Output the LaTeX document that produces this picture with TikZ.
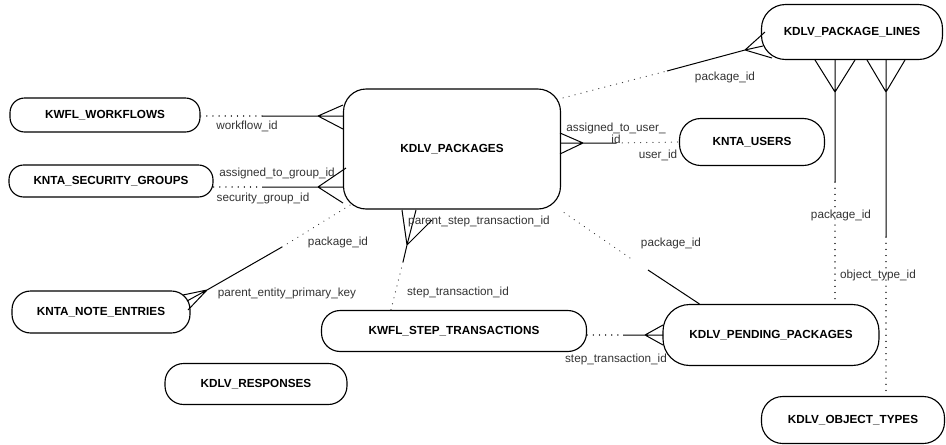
\documentclass[tikz,border=0pt]{standalone}
\usepackage{fontspec}
\setmainfont{Liberation Sans}
\usetikzlibrary{calc}

\begin{document}
\begin{tikzpicture}[
    x=0.75pt, y=-0.75pt,
    tbl/.style={rectangle, draw, rounded corners=11pt, line width=0.85pt, inner sep=0pt, font=\bfseries\fontsize{8.8}{10}\selectfont},
    sz/.style 2 args={minimum width=#1*0.75pt, minimum height=#2*0.75pt},
    rel/.style={line width=0.75pt},
    fk/.style={line width=0.8pt, line cap=round, draw=black!75, dash pattern=on 0.2pt off 4.4pt},
    lbl/.style={inner sep=0pt, font=\fontsize{8.8}{9}\selectfont, text=black!80, align=center}
]
    \useasboundingbox (0,0) rectangle (946,444);

    % tables
    \node[tbl, sz={190}{34}] (workflows) at (105,115) {KWFL\_WORKFLOWS};
    \node[tbl, sz={204}{32}] (secgroups) at (111,181) {KNTA\_SECURITY\_GROUPS};
    \node[tbl, sz={217}{120}, rounded corners=17pt] (packages) at (452,149) {KDLV\_PACKAGES};
    \node[tbl, sz={145}{47}, rounded corners=16pt] (users) at (752,142) {KNTA\_USERS};
    \node[tbl, sz={181}{55}, rounded corners=18pt] (pkglines) at (852,32) {KDLV\_PACKAGE\_LINES};
    \node[tbl, sz={178}{42}, rounded corners=14pt] (notes) at (101,312) {KNTA\_NOTE\_ENTRIES};
    \node[tbl, sz={265}{41}, rounded corners=14pt] (steptx) at (454,331) {KWFL\_STEP\_TRANSACTIONS};
    \node[tbl, sz={216}{61}, rounded corners=20pt] (pending) at (771,335) {KDLV\_PENDING\_PACKAGES};
    \node[tbl, sz={183}{47}, rounded corners=16pt] (objtypes) at (853,420) {KDLV\_OBJECT\_TYPES};
    \node[tbl, sz={182}{41}, rounded corners=14pt] (responses) at (256,384) {KDLV\_RESPONSES};

    % workflow_id
    \coordinate (wf-d) at (262,116);
    \coordinate (wf-a) at (318,116);
    \draw[fk] (workflows.east |- wf-d) -- (wf-d);
    \draw[rel] (wf-d) -- (wf-a) (wf-a) -- (343,105) (wf-a) -- (343,116) (wf-a) -- (343,129);
    \node[lbl] (l-wf) at (247,126) {workflow\_id};

    % security_group_id
    \coordinate (sg-d) at (262,187);
    \coordinate (sg-a) at (318,187);
    \draw[fk] (secgroups.east |- sg-d) -- (sg-d);
    \draw[rel] (sg-d) -- (sg-a) (sg-a) -- (346,168) (sg-a) -- (343,187) (sg-a) -- (343,203);
    \node[lbl] (l-sg1) at (277,173) {assigned\_to\_group\_id};
    \node[lbl] (l-sg2) at (263,198) {security\_group\_id};

    % user_id
    \coordinate (us-a) at (583,143);
    \coordinate (us-d) at (616,143);
    \draw[rel] (us-d) -- (us-a) (us-a) -- (560,133) (us-a) -- (560,143) (us-a) -- (560,154);
    \draw[fk] (us-d) -- (users.west);
    \node[lbl] (l-us1) at (616,133) {assigned\_to\_user\_\\id};
    \node[lbl] (l-us2) at (658,155) {user\_id};

    % package lines
    \coordinate (pl-d) at (667,71);
    \coordinate (pl-a) at (745,50);
    \draw[fk] ([shift={(-4,11)}]packages.north east) -- (pl-d);
    \draw[rel] (pl-d) -- (pl-a) (pl-a) -- (765,32) (pl-a) -- (763,46) (pl-a) -- (772,58);
    \node[lbl] (l-pl) at (725,77) {package\_id};

    % package lines -> pending packages
    \coordinate (pp-a) at (835,92);
    \coordinate (pp-d) at (835,182);
    \draw[rel] (pp-d) -- (pp-a) (pp-a) -- (815,60) (pp-a) -- (835,60) (pp-a) -- (855,60);
    \draw[fk] (pp-d) -- (pending.north -| pp-d);
    \node[lbl] (l-pp) at (841,215) {package\_id};

    % package lines -> object types
    \coordinate (ot-a) at (886,92);
    \coordinate (ot-d) at (886,237);
    \draw[rel] (ot-d) -- (ot-a) (ot-a) -- (867,60) (ot-a) -- (886,60) (ot-a) -- (905,60);
    \draw[fk] (ot-d) -- (objtypes.north -| ot-d);
    \node[lbl] (l-ot) at (878,275) {object\_type\_id};

    % note entries
    \coordinate (ne-a) at (207,290);
    \coordinate (ne-d) at (282,247);
    \draw[rel] (ne-d) -- (ne-a) (ne-a) -- (183,295) (ne-a) -- (187,301) (ne-a) -- (188,310);
    \draw[fk] (ne-d) -- ([shift={(8,-5)}]packages.south west);
    \node[lbl] (l-ne1) at (338,242) {package\_id};
    \node[lbl] (l-ne2) at (287,293) {parent\_entity\_primary\_key};

    % step transactions
    \coordinate (st-a) at (407,245);
    \coordinate (st-d) at (403,262);
    \draw[rel] (st-d) -- (st-a) (st-a) -- (402,210) (st-a) -- (416,210) (st-a) -- (432,220);
    \draw[fk] (st-d) -- ([shift={(70,0)}]steptx.north west);
    \node[lbl] (l-st1) at (479,221) {parent\_step\_transaction\_id};
    \node[lbl] (l-st2) at (458,292) {step\_transaction\_id};

    % pending packages
    \coordinate (pk-d) at (630,258);
    \coordinate (pk-s) at (648,270);
    \draw[fk] ([shift={(3,3)}]packages.south east) -- (pk-d);
    \draw[rel] (pk-s) -- ([shift={(37,0)}]pending.north west);
    \node[lbl] (l-pk) at (671,243) {package\_id};

    % step transactions -> pending packages
    \coordinate (sp-d) at (623,335);
    \coordinate (sp-a) at (645,335);
    \draw[fk] (steptx.east |- sp-d) -- (sp-d);
    \draw[rel] (sp-d) -- (sp-a) (sp-a) -- (663,325) (sp-a) -- (663,335) (sp-a) -- (663,345);
    \node[lbl] (l-sp) at (616,359) {step\_transaction\_id};
\end{tikzpicture}
\end{document}
